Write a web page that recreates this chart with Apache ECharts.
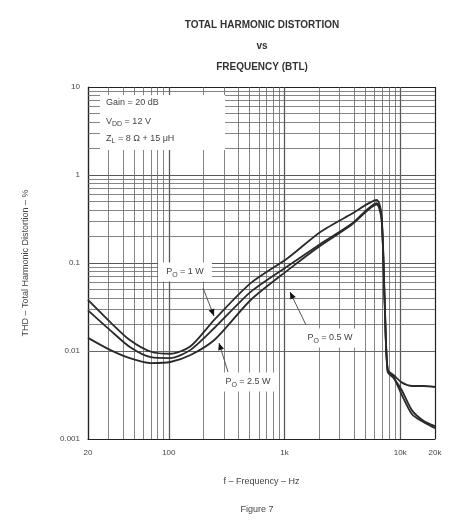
<!DOCTYPE html>
<html>
<head>
<meta charset="utf-8">
<script src="https://cdn.jsdelivr.net/npm/echarts@6/dist/echarts.min.js"></script>
<style>
html,body{margin:0;padding:0;background:#fff;}
#chart{width:457px;height:523px;}
</style>
</head>
<body>
<div id="chart"></div>
<script>
// frequency (Hz) and THD (%)
var freq = [20, 31, 46, 70, 103, 154, 250, 510, 1070, 2040, 3780, 6260, 6900, 7350, 7800, 8800, 10300, 12700, 16000, 20000];
var thd1W = [0.038, 0.0214, 0.0133, 0.0098, 0.0093, 0.0113, 0.023, 0.059, 0.114, 0.225, 0.36, 0.52, 0.35, 0.038, 0.0061, 0.0053, 0.0044, 0.0040, 0.0040, 0.0039];
var thd05W = [0.029, 0.0173, 0.0111, 0.0085, 0.0083, 0.0103, 0.0185, 0.047, 0.0925, 0.164, 0.277, 0.48, 0.33, 0.035, 0.0060, 0.0050, 0.0032, 0.0019, 0.00155, 0.00133];
var thd25W = [0.0141, 0.0103, 0.0083, 0.0073, 0.0075, 0.009, 0.0135, 0.038, 0.083, 0.157, 0.27, 0.46, 0.31, 0.033, 0.0058, 0.0049, 0.0036, 0.0021, 0.0016, 0.0014];
var xTicks = [20, 100, 1000, 10000, 20000];
var conds = ['Gain = 20 dB', 'V{s|DD} = 12 V', 'Z{s|L} = 8 Ω + 15 μH'];

function pairs(ys){ return freq.map(function(f,i){ return [f, ys[i]]; }); }

// minor grid lines (2..9 per decade)
var gx = [], gy = [];
[10, 100, 1000, 10000].forEach(function(d){ for (var k=1;k<10;k++){ var v=d*k; if (v>20 && v<20000) gx.push({xAxis:v}); } });
[0.001, 0.01, 0.1, 1].forEach(function(d){ for (var k=1;k<10;k++){ var v=+(d*k).toPrecision(3); if (v>0.001 && v<10) gy.push({yAxis:v}); } });

var chart = echarts.init(document.getElementById('chart'));
var txt = '#444';
var lineStyle = {color:'#2a2a2a', width:1.8};
var option = {
  animation:false,
  backgroundColor:'#fff',
  title:{
    text:'TOTAL HARMONIC DISTORTION\nvs\nFREQUENCY (BTL)',
    left:257, top:10, textAlign:'center',
    textStyle:{fontFamily:'Liberation Sans Narrow, Arial', fontSize:10, fontWeight:'bold', color:'#333', lineHeight:21}
  },
  grid:{left:88, right:22, top:87, bottom:84},
  xAxis:{
    type:'log', logBase:10, min:20, max:20000,
    name:'f – Frequency – Hz', nameLocation:'middle', nameGap:38,
    nameTextStyle:{fontSize:9, color:txt},
    axisLine:{lineStyle:{color:'#222', width:1.2}},
    axisTick:{show:false},
    axisLabel:{customValues:xTicks, fontSize:8, color:txt, margin:10,
      formatter:function(v){ return v>=1000 ? (v/1000)+'k' : ''+v; }},
    splitLine:{show:true, lineStyle:{color:'#222', width:1.2}}
  },
  yAxis:{
    type:'log', logBase:10, min:0.001, max:10,
    name:'THD – Total Harmonic Distortion – %', nameLocation:'middle', nameGap:58,
    nameTextStyle:{fontSize:9, color:txt},
    axisLine:{lineStyle:{color:'#222', width:1.2}},
    axisTick:{show:false},
    axisLabel:{fontSize:8, color:txt, margin:8,
      formatter:function(v){ return ''+(+v.toPrecision(2)); }},
    splitLine:{show:true, lineStyle:{color:'#222', width:1.2}}
  },
  series:[
    {type:'line', name:'PO = 1 W', data:pairs(thd1W), symbol:'none', smooth:0.25, lineStyle:lineStyle, z:5,
     markLine:{silent:true, symbol:'none', label:{show:false}, animation:false,
       lineStyle:{color:'#666', width:0.8, type:'solid'}, data:gx.concat(gy)}},
    {type:'line', name:'PO = 0.5 W', data:pairs(thd05W), symbol:'none', smooth:0.25, lineStyle:lineStyle, z:5},
    {type:'line', name:'PO = 2.5 W', data:pairs(thd25W), symbol:'none', smooth:0.25, lineStyle:lineStyle, z:5}
  ],
  graphic:[]
};
chart.setOption(option);

// annotations
var rich = {s:{fontSize:7, verticalAlign:'bottom', padding:[6,0,0,0], color:txt}};
var g = [];
g.push({type:'rect', shape:{x:100, y:95, width:125, height:55}, style:{fill:'#fff'}, z:10});
conds.forEach(function(c,i){
  g.push({type:'text', x:106, y:98+i*17, z:11, style:{text:c, fontSize:9, fill:txt, rich:rich}});
});
function label(x, y, t){
  g.push({type:'text', x:x, y:y, z:11, style:{text:t, fontSize:9, fill:txt, rich:rich,
    backgroundColor:'#fff', padding:[3,8,3,8], align:'center', verticalAlign:'middle'}});
}
function arrow(x1, y1, x2, y2){
  var a = Math.atan2(y2-y1, x2-x1), L = 7, w = 3;
  g.push({type:'line', z:11, shape:{x1:x1, y1:y1, x2:x2, y2:y2}, style:{stroke:'#555', lineWidth:1}});
  g.push({type:'polygon', z:12, shape:{points:[[x2,y2],
    [x2-L*Math.cos(a)+w*Math.sin(a), y2-L*Math.sin(a)-w*Math.cos(a)],
    [x2-L*Math.cos(a)-w*Math.sin(a), y2-L*Math.sin(a)+w*Math.cos(a)]]}, style:{fill:'#111'}});
}
label(185, 272, 'P{s|O} = 1 W');
arrow(203, 288, 214, 316);
label(330, 338, 'P{s|O} = 0.5 W');
arrow(306, 325, 290, 292);
label(248, 382, 'P{s|O} = 2.5 W');
arrow(228, 372, 219, 343);
g.push({type:'text', x:257, y:505, z:11, style:{text:'Figure 7', fontSize:9, fill:txt, align:'center'}});
chart.setOption({graphic:g});
</script>
</body>
</html>
